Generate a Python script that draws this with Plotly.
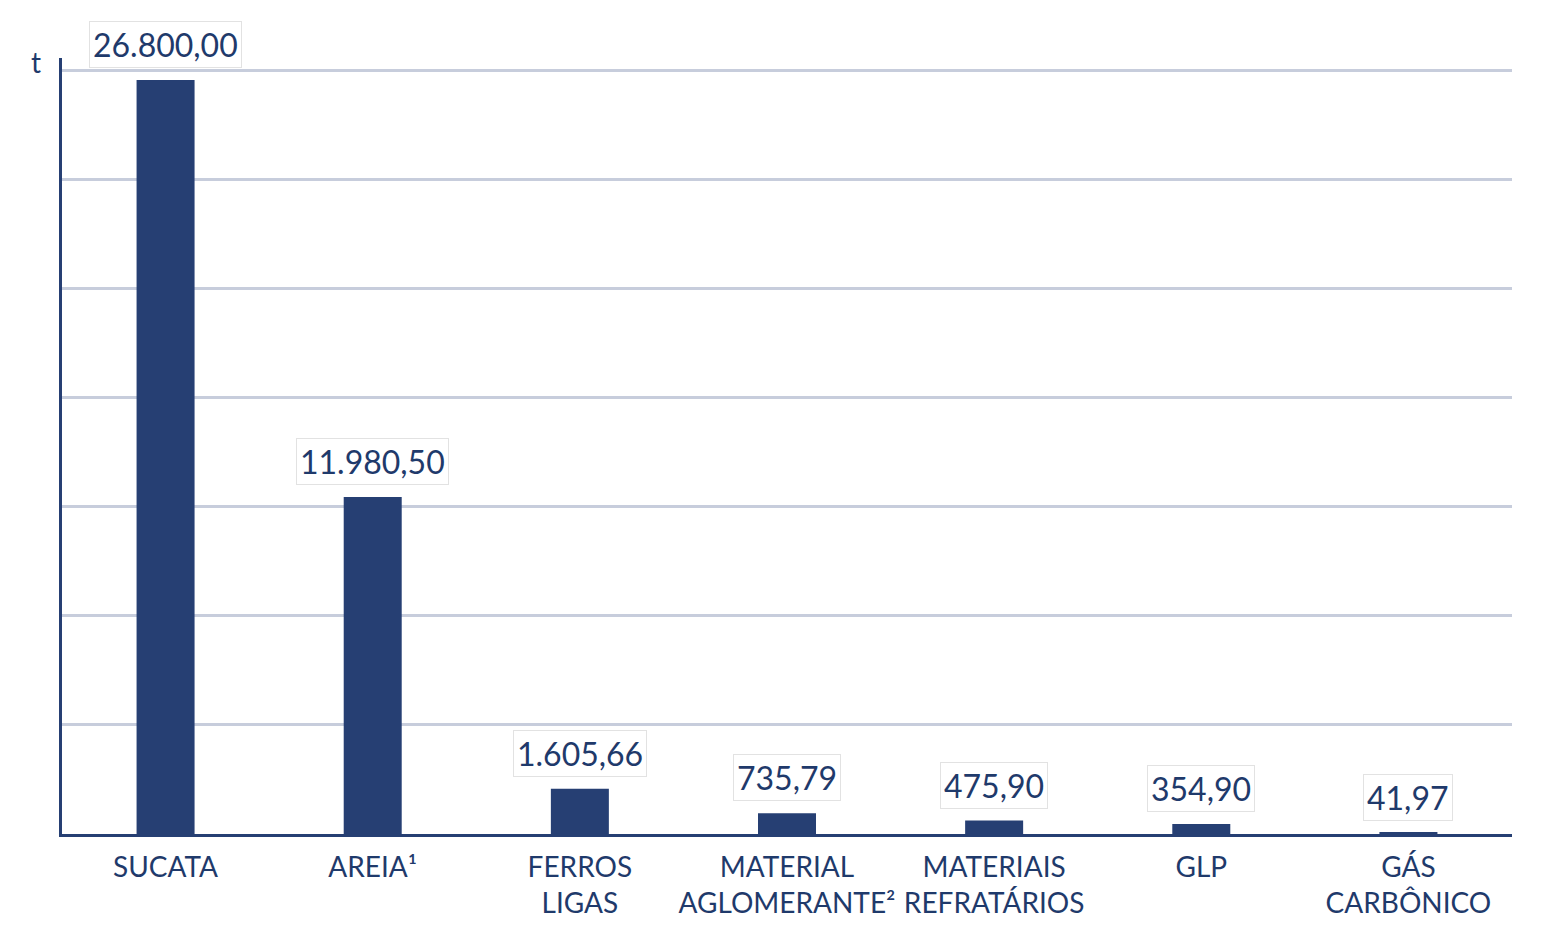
import plotly.graph_objects as go

categories = ["SUCATA", "AREIA¹", "FERROS<br>LIGAS", "MATERIAL<br>AGLOMERANTE²",
              "MATERIAIS<br>REFRATÁRIOS", "GLP", "GÁS<br>CARBÔNICO"]
values = [26800.00, 11980.50, 1605.66, 735.79, 475.90, 354.90, 41.97]
value_labels = ["26.800,00", "11.980,50", "1.605,66", "735,79", "475,90", "354,90", "41,97"]
unit_label = "t"

navy = "#263f73"
text_navy = "#1f3a6b"
grid = "#c7cddc"

fig = go.Figure()
fig.add_trace(go.Bar(x=categories, y=values, marker=dict(color=navy, line=dict(width=0)),
                     hoverinfo="skip"))

for cat, val, lab in zip(categories, values, value_labels):
    fig.add_annotation(x=cat, y=val, xref="x", yref="y", text=lab, showarrow=False,
                       yanchor="bottom", yshift=12, bgcolor="white",
                       bordercolor="#e2e2e2", borderwidth=1, borderpad=3,
                       font=dict(size=32, color=text_navy))

fig.add_annotation(x=-0.013, y=0.995, xref="paper", yref="paper", text=unit_label,
                   showarrow=False, xanchor="right", yanchor="middle",
                   font=dict(size=28, color=text_navy))

# page body has an 8px margin, so the figure is sized to fit inside the window
fig.update_layout(
    width=1526, height=911,
    margin=dict(l=54, r=22, t=50, b=85),
    paper_bgcolor="white", plot_bgcolor="white",
    font=dict(family="Lato, 'Open Sans', sans-serif", color=text_navy),
    bargap=0.72,
    showlegend=False,
    xaxis=dict(showline=True, linecolor=navy, linewidth=3, ticks="", showgrid=False,
               tickangle=0, automargin=False, ticklabelstandoff=6,
               tickfont=dict(size=28, color=text_navy), fixedrange=True),
    yaxis=dict(range=[0, 27580], dtick=3875, showticklabels=False, ticks="",
               showgrid=True, gridcolor=grid, gridwidth=3, zeroline=False,
               automargin=False,
               showline=True, linecolor=navy, linewidth=3, fixedrange=True),
)

fig.write_html("out.html")
